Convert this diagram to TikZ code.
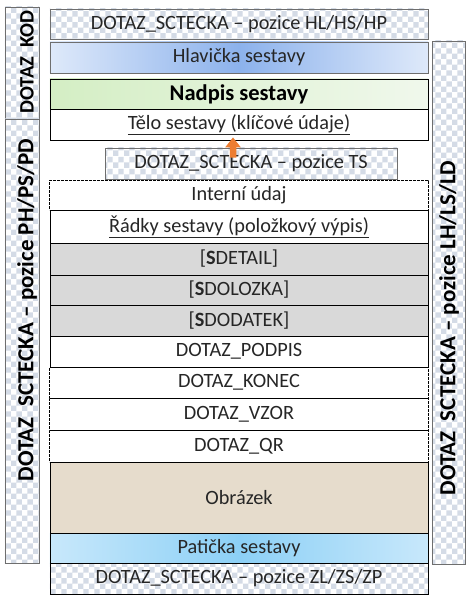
\documentclass[tikz,border=0pt]{standalone}
\usepackage{fontspec}
\setmainfont{Carlito}
\usepackage{xcolor}
\usetikzlibrary{arrows.meta, patterns, positioning}

\definecolor{textcol}{RGB}{38,38,38}
\definecolor{hatchcol}{RGB}{212,219,230}
\definecolor{framegray}{RGB}{110,110,110}
\definecolor{rowgray}{RGB}{217,217,217}
\definecolor{sandcol}{RGB}{230,220,204}
\definecolor{headlight}{RGB}{222,233,250}
\definecolor{headmid}{RGB}{140,178,236}
\definecolor{greenleft}{RGB}{212,238,196}
\definecolor{greenright}{RGB}{240,248,236}
\definecolor{footlight}{RGB}{200,232,251}
\definecolor{footmid}{RGB}{140,208,246}
\definecolor{arrowcol}{RGB}{237,125,49}

\begin{document}
\begin{tikzpicture}[x=1bp, y=-1bp,
		box/.style={draw=black, line width=0.8bp, minimum width=378bp, inner sep=0pt, text=textcol, font=\fontsize{20.3bp}{24bp}\selectfont},
		dashbox/.style={box, line width=1bp, dash pattern=on 2.6bp off 1.4bp},
		hatch/.style={preaction={fill=white}, pattern=checkerboard, pattern color=hatchcol},
		sidetext/.style={rotate=90, inner sep=0pt, text=black, font=\fontsize{23bp}{26bp}\selectfont\bfseries}]
		\useasboundingbox (0,0) rectangle (470,599);

		% sloupce vlevo a vpravo
		\node[hatch, draw=framegray, line width=0.8bp, minimum width=34bp, minimum height=112bp] (DOTAZ KOD) at (22,63) {};
		\node[hatch, draw=framegray, line width=0.8bp, minimum width=34bp, minimum height=444bp] (pozice PH) at (22,341) {};
		\node[hatch, draw=framegray, line width=0.8bp, minimum width=33bp, minimum height=523bp] (pozice LH) at (448.5,302.5) {};
		\node[sidetext, font=\fontsize{20.5bp}{24bp}\selectfont\bfseries] (DOTAZ KOD text) at (27,62) {DOTAZ\hspace{.45em}KOD};
		\node[sidetext] (pozice PH text) at (27,310) {DOTAZ\hspace{.45em}SCTECKA – pozice PH/PS/PD};
		\node[sidetext] (pozice LH text) at (449,328) {DOTAZ\hspace{.45em}SCTECKA – pozice LH/LS/LD};

		% hlavni sloupec
		\node[box, hatch, draw=framegray, minimum height=30bp] (pozice HL) at (239,24) {DOTAZ\_SCTECKA – pozice HL/HS/HP};
		\node[box, draw=framegray, left color=headlight, right color=headlight, middle color=headmid, minimum height=31bp] (Hlavicka sestavy) at (239,57.5) {Hlavička sestavy};
		\node[box, left color=greenleft, right color=greenright, minimum height=30bp, text=black, font=\fontsize{22.5bp}{26bp}\selectfont\bfseries] (Nadpis sestavy) at (239,94) {Nadpis sestavy};
		\node[box, fill=white, minimum height=31bp] (Telo sestavy) at (239,124.5) {\underline{Tělo sestavy (klíčové údaje)}};
		\node[box, hatch, draw=framegray, minimum width=292bp, minimum height=31bp] (pozice TS) at (251,163.5) {DOTAZ\_SCTECKA – pozice TS};
		\node[dashbox, minimum height=30bp] (Interni udaj) at (239,195) {Interní údaj};
		\node[box, minimum height=33bp] (Radky sestavy) at (239,226.5) {\underline{Řádky sestavy (položkový výpis)}};
		\node[box, fill=rowgray, minimum height=32bp] (SDETAIL) at (239,259) {[\textbf{S}DETAIL]};
		\node[box, fill=rowgray, minimum height=30bp] (SDOLOZKA) at (239,290) {[\textbf{S}DOLOZKA]};
		\node[box, fill=rowgray, minimum height=31bp] (SDODATEK) at (239,320.5) {[\textbf{S}DODATEK]};
		\node[box, minimum height=31bp] (DOTAZ PODPIS) at (239,351.5) {DOTAZ\_PODPIS};
		\node[dashbox, minimum height=31bp] (DOTAZ KONEC) at (239,382.5) {DOTAZ\_KONEC};
		\node[dashbox, minimum height=32bp] (DOTAZ VZOR) at (239,414) {DOTAZ\_VZOR};
		\node[dashbox, minimum height=32bp] (DOTAZ QR) at (239,446) {DOTAZ\_QR};
		\node[box, fill=sandcol, minimum height=71bp] (Obrazek) at (239,497.5) {Obrázek};
		\node[box, left color=footlight, right color=footlight, middle color=footmid, minimum height=30bp] (Paticka sestavy) at (239,548) {Patička sestavy};
		\node[box, hatch, minimum height=31bp] (pozice ZL) at (239,578.5) {DOTAZ\_SCTECKA – pozice ZL/ZS/ZP};

		\draw[-{Triangle[width=15bp,length=10bp]}, line width=6.5bp, draw=arrowcol] ([xshift=-18bp,yshift=-10bp]pozice TS.north) to ([xshift=-6bp,yshift=3bp]Telo sestavy.south);
	\end{tikzpicture}
\end{document}
